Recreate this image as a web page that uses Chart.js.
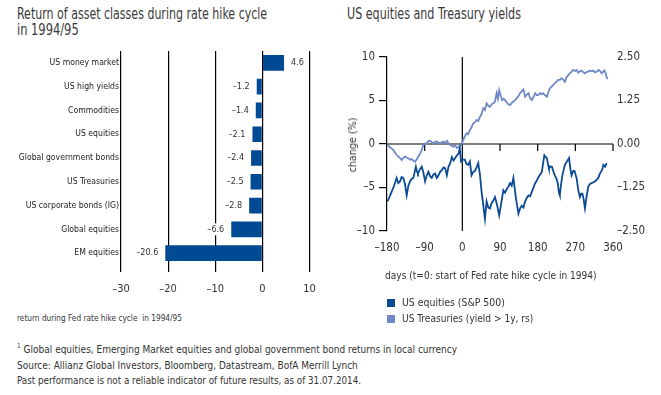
<!DOCTYPE html>
<html>
<head>
<meta charset="utf-8">
<script src="https://cdn.jsdelivr.net/npm/chart.js@4.4.1/dist/chart.umd.min.js"></script>
<style>
  html, body { margin: 0; padding: 0; background: #fff; }
  body {
    width: 661px; height: 395px; position: relative; overflow: hidden;
    font-family: "DejaVu Sans Condensed", "DejaVu Sans", sans-serif;
    color: #333;
  }
  .t { position: absolute; white-space: nowrap; transform-origin: 0 50%; }
  .title { font-size: 15px; line-height: 16px; color: #3a3a3a; }
  .note { font-size: 10.8px; line-height: 16px; color: #333; }
  .sq { position: absolute; width: 8px; height: 8px; }
  #barBox { position: absolute; left: 0; top: 40px; width: 330px; height: 265px; }
  #lineBox { position: absolute; left: 330px; top: 40px; width: 331px; height: 230px; }
</style>
</head>
<body>

<div class="t title" data-w="250" style="left:17px; top:6px;">Return of asset classes during rate hike cycle</div>
<div class="t title" data-w="62" style="left:17px; top:22px;">in 1994/95</div>
<div class="t title" data-w="174" style="left:347px; top:6px;">US equities and Treasury yields</div>

<div id="barBox"><canvas id="barChart"></canvas></div>
<div id="lineBox"><canvas id="lineChart"></canvas></div>

<div class="t" data-w="165" style="left:17px; top:311px; font-size:9.5px; line-height:14px;">return during Fed rate hike cycle&nbsp; in 1994/95</div>

<div id="yTitle" class="t" style="left:353px; top:145px; font-size:11px; line-height:14px;">change (%)</div>
<div class="t" data-w="212" style="left:385px; top:268px; font-size:11px; line-height:16px;">days (t=0: start of Fed rate hike cycle in 1994)</div>
<div class="sq" style="left:387px; top:299px; background:#0b4a95;"></div>
<div class="t" data-w="103" style="left:402px; top:295px; font-size:11px; line-height:16px;">US equities (S&amp;P 500)</div>
<div class="sq" style="left:387px; top:315px; background:#7088c8;"></div>
<div class="t" data-w="131" style="left:402px; top:311px; font-size:11px; line-height:16px;">US Treasuries (yield &gt; 1y, rs)</div>

<div class="t note" data-w="440" style="left:17px; top:342px;"><sup style="font-size:7px; line-height:0;">1</sup> Global equities, Emerging Market equities and global government bond returns in local currency</div>
<div class="t note" data-w="341" style="left:17px; top:358px;">Source: Allianz Global Investors, Bloomberg, Datastream, BofA Merrill Lynch</div>
<div class="t note" data-w="344" style="left:17px; top:373px;">Past performance is not a reliable indicator of future results, as of 31.07.2014.</div>

<script>
// ---- data ----
const assetClasses = ['US money market', 'US high yields', 'Commodities', 'US equities',
  'Global government bonds', 'US Treasuries', 'US corporate bonds (IG)', 'Global equities', 'EM equities'];
const assetReturns = [4.6, -1.2, -1.4, -2.1, -2.4, -2.5, -2.8, -6.6, -20.6];
const returnTicks = [-30, -20, -10, 0, 10];

const dayTicks = [-180, -90, 0, 90, 180, 270, 360];
const changeTicks = [-10, -5, 0, 5, 10];
const yieldTicks = [-2.5, -1.25, 0, 1.25, 2.5];

// S&P 500 change (%) vs days from start of hike cycle
const equityDays = [-179, -175, -169, -163, -157, -153, -149, -145, -141, -137, -133, -129, -125, -121,
  -117, -111, -108, -106, -101, -97, -93, -89, -85, -81, -77, -73, -69, -65, -61, -57, -53, -49, -45,
  -41, -37, -33, -29, -25, -21, -17, -13, -9, -6, -3, 1, 6, 10, 14, 18, 22, 26, 30, 34, 38, 42, 46, 50,
  54, 58, 62, 66, 70, 74, 78, 83, 88, 93, 98, 102, 106, 110, 114, 118, 122, 128, 134, 138, 142, 146,
  150, 154, 158, 162, 166, 170, 174, 178, 182, 186, 190, 193, 196, 199, 202, 205, 207, 211, 214, 218,
  221, 225, 228, 231, 233, 236, 239, 242, 245, 250, 255, 258, 261, 265, 268, 271, 273, 277, 281, 284,
  287, 290, 293, 297, 301, 305, 309, 313, 317, 321, 325, 328, 331, 334, 337, 341, 344, 346];
const equityChange = [-6.6, -6.2, -5.5, -4.8, -3.9, -4.5, -4.3, -3.8, -3.9, -4.6, -5.9, -4.8, -4.3, -4.0,
  -3.9, -2.6, -3.2, -3.4, -2.9, -2.6, -3.3, -4.3, -3.6, -3.2, -3.7, -3.9, -3.5, -3.4, -3.9, -3.6, -3.2,
  -3.0, -2.7, -2.8, -3.6, -2.6, -2.2, -1.5, -1.9, -1.6, -1.3, -1.1, -0.5, -2.0, -1.8, -1.8, -2.3, -2.4,
  -2.0, -3.6, -3.2, -3.1, -2.7, -2.2, -3.5, -5.5, -7.0, -8.6, -6.6, -7.3, -7.4, -6.8, -6.5, -6.1, -7.0,
  -8.2, -6.8, -5.3, -5.6, -5.2, -4.9, -4.5, -4.8, -3.9, -6.2, -8.0, -7.4, -7.1, -7.3, -6.6, -6.2, -5.9,
  -6.0, -5.5, -5.0, -4.5, -4.2, -3.8, -3.5, -3.2, -2.2, -1.3, -1.5, -1.6, -2.4, -2.8, -2.6, -2.6, -3.2,
  -3.6, -4.0, -4.5, -5.6, -5.9, -4.6, -3.6, -3.0, -2.4, -2.0, -1.6, -2.8, -3.6, -3.1, -3.1, -3.6, -3.9,
  -5.3, -6.1, -5.7, -5.7, -6.4, -7.4, -6.0, -4.9, -4.6, -4.5, -4.4, -4.3, -4.1, -3.9, -3.5, -3.2, -3.0,
  -2.4, -2.6, -2.3, -2.3];

// Treasury yield change (percentage points, right scale)
const yieldDays = [-179, -172, -165, -159, -153, -149, -145, -141, -137, -133, -129, -125, -121, -117,
  -113, -109, -105, -101, -97, -93, -89, -85, -81, -77, -73, -69, -65, -61, -57, -53, -49, -45, -41,
  -37, -33, -29, -25, -22, -17, -13, -9, -6, -2, 2, 6, 10, 14, 18, 22, 26, 30, 34, 38, 42, 46, 50, 54,
  58, 62, 66, 70, 74, 78, 82, 85, 88, 92, 95, 99, 102, 106, 109, 114, 118, 122, 126, 130, 134, 138,
  142, 146, 150, 154, 158, 162, 166, 170, 174, 178, 182, 186, 190, 193, 198, 202, 206, 209, 213, 217,
  221, 225, 229, 233, 237, 241, 245, 249, 253, 257, 261, 265, 269, 273, 277, 281, 285, 289, 293, 297,
  301, 305, 309, 313, 317, 321, 326, 330, 333, 336, 339, 342, 344, 347];
const yieldChange = [-0.03, -0.10, -0.17, -0.28, -0.36, -0.40, -0.46, -0.40, -0.36, -0.39, -0.41, -0.45,
  -0.43, -0.48, -0.51, -0.44, -0.36, -0.28, -0.17, -0.03, 0.02, 0.00, 0.09, 0.09, 0.05, 0.02, 0.06, 0.07,
  0.04, 0.02, 0.05, 0.07, 0.03, 0.09, 0.02, -0.03, -0.05, -0.08, -0.04, -0.11, -0.09, -0.05, -0.02, 0.11,
  0.22, 0.31, 0.28, 0.40, 0.48, 0.59, 0.62, 0.69, 0.66, 0.78, 0.86, 1.03, 0.98, 1.17, 1.10, 1.07, 1.14,
  1.17, 1.22, 1.46, 1.30, 1.55, 1.38, 1.26, 1.30, 1.26, 1.20, 1.15, 1.12, 1.18, 1.22, 1.26, 1.31, 1.38,
  1.46, 1.52, 1.57, 1.36, 1.42, 1.46, 1.32, 1.26, 1.35, 1.46, 1.40, 1.41, 1.46, 1.43, 1.46, 1.40, 1.36,
  1.50, 1.60, 1.64, 1.70, 1.74, 1.79, 1.84, 1.84, 1.89, 1.85, 1.79, 1.92, 1.98, 2.03, 2.08, 2.13, 2.10,
  2.13, 2.05, 2.09, 2.11, 2.06, 2.03, 2.07, 2.08, 2.11, 2.09, 2.11, 2.06, 2.08, 2.13, 2.08, 2.03, 2.07,
  2.11, 2.05, 1.95, 1.86, 1.84];

// squeeze the html texts to the widths of the condensed original font
document.querySelectorAll('[data-w]').forEach(el => {
  const k = +el.dataset.w / el.offsetWidth;
  el.style.transform = 'scaleX(' + k.toFixed(3) + ')';
});
const yTitle = document.getElementById('yTitle');
const yk = 55 / yTitle.offsetWidth;
yTitle.style.transformOrigin = '50% 50%';
yTitle.style.transform = 'translate(-50%, -50%) rotate(-90deg) scaleX(' + yk.toFixed(3) + ')';

// ---- styling ----
const FONT = '"DejaVu Sans Condensed", "DejaVu Sans", sans-serif';
const BLUE = '#0b4a95';
const LIGHT_BLUE = '#7088c8';
const dash = v => String(v).replace('-', '\u2013');

Chart.defaults.font.family = FONT;
Chart.defaults.color = '#333';

// value labels at the bar ends, on white so the grid line stops behind them
const barValueLabels = {
  id: 'barValueLabels',
  afterDatasetsDraw(chart) {
    const ctx = chart.ctx;
    ctx.save();
    ctx.font = '9px ' + FONT;
    ctx.textBaseline = 'middle';
    chart.getDatasetMeta(0).data.forEach((bar, i) => {
      const v = assetReturns[i];
      const txt = dash(v.toFixed(1));
      const w = ctx.measureText(txt).width;
      const x = bar.x + (v < 0 ? -7 : 7);
      const left = v < 0 ? x - w : x;
      ctx.fillStyle = '#fff';
      ctx.fillRect(left - 1, bar.y - 6, w + 2, 12);
      ctx.fillStyle = '#333';
      ctx.textAlign = v < 0 ? 'right' : 'left';
      ctx.fillText(txt, x, bar.y);
    });
    ctx.restore();
  }
};

new Chart(document.getElementById('barChart'), {
  type: 'bar',
  data: {
    labels: assetClasses,
    datasets: [{
      data: assetReturns,
      backgroundColor: '#004a93',
      borderWidth: 0,
      categoryPercentage: 1,
      barPercentage: 0.66
    }]
  },
  options: {
    indexAxis: 'y',
    responsive: true,
    maintainAspectRatio: false,
    animation: false,
    layout: { padding: { top: 11, right: 20.5, left: 0, bottom: 0 } },
    plugins: { legend: { display: false }, tooltip: { enabled: false } },
    scales: {
      x: {
        min: -30, max: 10,
        afterBuildTicks: s => { s.ticks = returnTicks.map(v => ({ value: v })); },
        afterFit: s => { s.height = 40; },
        grid: { color: '#000', lineWidth: 1.2, tickLength: 7 },
        border: { display: false },
        ticks: { padding: 11, font: { size: 11 }, color: '#333', callback: v => dash(v) }
      },
      y: {
        afterFit: s => { s.width = 121; },
        grid: { display: false, drawTicks: false },
        border: { display: false },
        ticks: { padding: 2, font: { size: 8.6 }, color: '#222' }
      }
    }
  },
  plugins: [barValueLabels]
});

// zero line across the plot with its day ticks, and the t=0 marker
const zeroLines = {
  id: 'zeroLines',
  beforeDatasetsDraw(chart) {
    const { ctx, chartArea: a, scales: { x, y } } = chart;
    const x0 = x.getPixelForValue(0);
    const y0 = y.getPixelForValue(0);
    ctx.save();
    ctx.strokeStyle = '#000';
    ctx.lineWidth = 1.2;
    ctx.beginPath();
    ctx.moveTo(x0, a.top); ctx.lineTo(x0, a.bottom);
    ctx.moveTo(a.left, y0); ctx.lineTo(a.right, y0);
    dayTicks.slice(1).forEach(d => {
      const px = x.getPixelForValue(d);
      ctx.moveTo(px, y0); ctx.lineTo(px, y0 + 7);
    });
    ctx.stroke();
    ctx.restore();
  }
};

new Chart(document.getElementById('lineChart'), {
  type: 'line',
  data: {
    datasets: [
      {
        label: 'US equities (S&P 500)',
        data: equityDays.map((d, i) => ({ x: d, y: equityChange[i] })),
        borderColor: BLUE,
        borderWidth: 1.8,
        pointRadius: 0,
        tension: 0,
        yAxisID: 'y'
      },
      {
        label: 'US Treasuries (yield > 1y, rs)',
        data: yieldDays.map((d, i) => ({ x: d, y: yieldChange[i] })),
        borderColor: LIGHT_BLUE,
        borderWidth: 1.8,
        pointRadius: 0,
        tension: 0,
        yAxisID: 'y1'
      }
    ]
  },
  options: {
    responsive: true,
    maintainAspectRatio: false,
    animation: false,
    layout: { padding: { top: 17, right: 0, left: 0, bottom: 0 } },
    plugins: { legend: { display: false }, tooltip: { enabled: false } },
    scales: {
      x: {
        type: 'linear',
        min: -180, max: 360,
        afterBuildTicks: s => { s.ticks = dayTicks.map(v => ({ value: v })); },
        afterFit: s => { s.height = 39; },
        grid: { display: false, drawTicks: false },
        border: { display: false },
        ticks: { padding: 10, font: { size: 11.5 }, color: '#333', maxRotation: 0, callback: v => dash(v) }
      },
      y: {
        position: 'left',
        min: -10, max: 10,
        afterBuildTicks: s => { s.ticks = changeTicks.map(v => ({ value: v })); },
        afterFit: s => { s.width = 57; },
        grid: { drawOnChartArea: false, color: '#000', lineWidth: 1.2, tickLength: 8 },
        border: { color: '#000', width: 1.2 },
        ticks: { padding: 4, font: { size: 11.5 }, color: '#333', callback: v => dash(v) }
      },
      y1: {
        position: 'right',
        min: -2.5, max: 2.5,
        afterBuildTicks: s => { s.ticks = yieldTicks.map(v => ({ value: v })); },
        afterFit: s => { s.width = 48; },
        grid: { display: false, drawTicks: false },
        border: { display: false },
        ticks: { padding: 4, font: { size: 11.5 }, color: '#333', callback: v => dash(v.toFixed(2)) }
      }
    }
  },
  plugins: [zeroLines]
});
</script>
</body>
</html>
